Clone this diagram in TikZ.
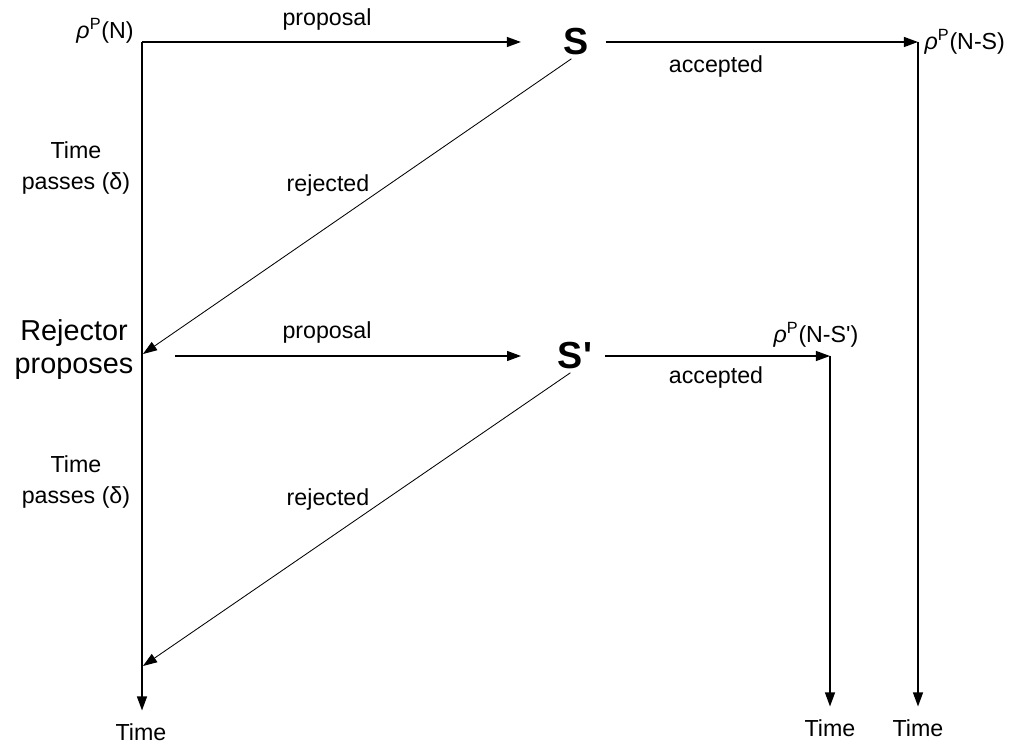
\documentclass[tikz,border=0pt]{standalone}
\usepackage{fontspec}
\setmainfont{Liberation Sans}
\usetikzlibrary{arrows.meta,positioning}

\newcommand\rhoP{\textit{ρ}\textsuperscript{P}}

\begin{document}
\begin{tikzpicture}[
  x=0.025cm, y=-0.025cm,
  lbl/.style={font=\fontsize{16.5}{22}\selectfont, align=center, inner sep=1pt},
  tm/.style={lbl, inner ysep=9pt},
  big/.style={font=\fontsize{26.8}{30}\selectfont\bfseries, inner sep=0pt},
  rej/.style={font=\fontsize{20.5}{23.5}\selectfont, align=center, inner sep=1pt},
  ar/.style={-{Triangle[length=10pt,width=7pt]}, line width=1.2pt},
  rj/.style={-{Triangle[length=10pt,width=7pt]}, line width=0.6pt},
]
\useasboundingbox (0,0) rectangle (1026,747);

% first proposal
\node[lbl] (rhoN) at (105,31) {\rhoP(N)};
\coordinate (c0) at (142,42);
\node[big] (S) at (576,42) {S};
\coordinate (c1) at (918,42);
\node[lbl, anchor=west] (rhoNS) at (923,42) {\rhoP(N-S)};
\node[lbl] (prop1) at (327,20) {proposal};
\node[lbl] (acc1) at (716,67) {accepted};
\node[lbl] (rej1) at (328,186) {rejected};
\node[lbl] (tp1) at (76,168) {Time\\passes (δ)};
\coordinate (r1) at (143,354);

% second proposal
\node[rej] (rp) at (74,350) {Rejector\\proposes};
\node[big] (Sp) at (575,356) {S\textquotesingle};
\coordinate (p2) at (175,356);
\coordinate (c2) at (830,356);
\node[lbl] (rhoNSp) at (816,335) {\rhoP(N-S\textquotesingle)};
\node[lbl] (prop2) at (327,333) {proposal};
\node[lbl] (acc2) at (716,378) {accepted};
\node[lbl] (rej2) at (328,500) {rejected};
\node[lbl] (tp2) at (76,482) {Time\\passes (δ)};
\coordinate (r2) at (143,666);

% time axes
\node[tm] (time0) at (141,732) {Time};
\node[tm] (time1) at (830,728) {Time};
\node[tm] (time2) at (918,728) {Time};

\draw[ar, shorten >=30pt] (c0) -- (S.west);
\draw[ar, shorten <=12pt] (S.east) -- (c1);
\draw[ar] (c0) -- (c0 |- time0.north);
\draw[ar] (c1) -- (c1 |- time2.north);
\draw[rj, shorten <=4pt] (S.south) -- (r1);
\draw[ar, shorten >=26pt] (p2) -- (p2 -| Sp.west);
\draw[ar, shorten <=9pt] (Sp.east |- c2) -- (c2);
\draw[ar] (c2) -- (c2 |- time1.north);
\draw[rj, shorten <=4pt] (Sp.south) -- (r2);
\end{tikzpicture}
\end{document}
